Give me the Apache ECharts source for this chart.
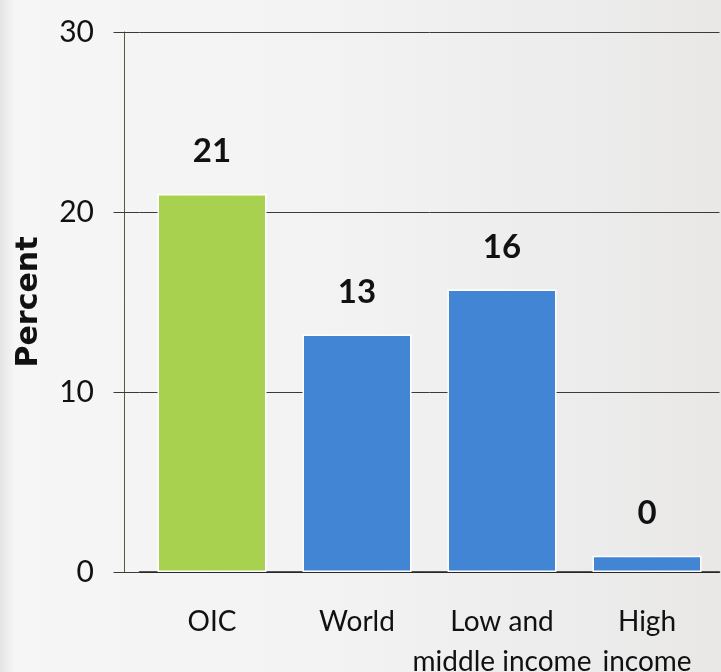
<!DOCTYPE html>
<html>
<head>
<meta charset="utf-8">
<script src="https://cdn.jsdelivr.net/npm/echarts@6/dist/echarts.min.js"></script>
<style>html,body{margin:0;padding:0;}#c{width:721px;height:672px;}</style>
</head>
<body>
<div id="c"></div>
<script>
const categories = ["OIC", "World", "Low and\nmiddle income", "High\nincome"];
const values = [21.0, 13.2, 15.7, 0.9];
const valueLabels = ["21", "13", "16", "0"];
const barColors = ["#A8D14F", "#4285D4", "#4285D4", "#4285D4"];
const yTicks = [0, 10, 20, 30];

const chart = echarts.init(document.getElementById('c'));
chart.setOption({
  backgroundColor: {
    type: 'linear', x: 0, y: 0, x2: 1, y2: 0,
    colorStops: [
      {offset: 0, color: '#e4e4e4'},
      {offset: 0.02, color: '#f6f6f7'},
      {offset: 0.5, color: '#f2f2f3'},
      {offset: 1, color: '#e9e8e7'}
    ]
  },
  animation: false,
  grid: {left: 139.5, right: 1.5, top: 32, bottom: 100, containLabel: false, outerBoundsMode: 'none'},
  xAxis: {
    type: 'category',
    data: categories,
    axisLine: {lineStyle: {color: '#222', width: 1.5}},
    axisTick: {show: false},
    axisLabel: {
      color: '#111', fontFamily: 'Lato', fontSize: 28, lineHeight: 40,
      margin: 30, interval: 0
    }
  },
  yAxis: [{
    type: 'value', min: 0, max: 30, interval: 10, offset: 15.5,
    name: 'Percent', nameLocation: 'middle', nameGap: 80,
    nameTextStyle: {fontFamily: 'DejaVu Sans', fontWeight: 'bold', fontSize: 30, color: '#111'},
    axisLine: {show: true, lineStyle: {color: '#5a5443', width: 1}},
    axisTick: {show: false},
    axisLabel: {
      color: '#111', fontFamily: 'Lato', fontSize: 30, margin: 30,
      formatter: v => yTicks.includes(v) ? String(v) : ''
    },
    splitLine: {show: true, lineStyle: {color: '#3a3a3a', width: 1}}
  }, {
    type: 'value', min: 0, max: 30, interval: 10, position: 'left', offset: 0,
    axisLine: {show: false},
    axisTick: {show: true, inside: false, length: 26, lineStyle: {color: '#3a3a3a', width: 1}},
    axisLabel: {show: false},
    splitLine: {show: false}
  }],
  series: [{
    type: 'bar',
    yAxisIndex: 0,
    barWidth: 109,
    data: values.map((v, i) => ({
      value: v,
      itemStyle: {color: barColors[i], borderColor: '#ffffff', borderWidth: 1.5}
    })),
    label: {
      show: true, position: 'top', distance: 26,
      fontFamily: 'Lato', fontWeight: 'bold', fontSize: 33, color: '#111',
      formatter: p => valueLabels[p.dataIndex]
    }
  }]
});
</script>
</body>
</html>
